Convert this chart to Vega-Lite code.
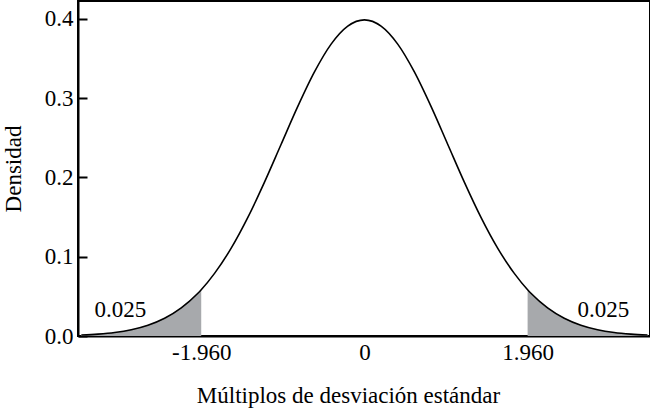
{
  "$schema": "https://vega.github.io/schema/vega-lite/v6.json",
  "width": 572,
  "height": 335,
  "autosize": "none",
  "padding": {"left": 78, "top": 1, "right": 0, "bottom": 72},
  "background": "white",
  "config": {
    "view": {"stroke": "black", "strokeWidth": 2},
    "font": "Liberation Serif",
    "axis": {"labelFont": "Liberation Serif", "titleFont": "Liberation Serif", "labelFontSize": 23, "titleFontSize": 23, "titleFontWeight": "normal", "labelColor": "black", "titleColor": "black", "domainColor": "black", "tickColor": "black", "grid": false}
  },
  "datasets": {
    "curve": [
      {"x": -3.4, "y": 0.0012}, {"x": -3.2, "y": 0.0024}, {"x": -3.0, "y": 0.0044}, {"x": -2.8, "y": 0.0079},
      {"x": -2.6, "y": 0.0136}, {"x": -2.4, "y": 0.0224}, {"x": -2.2, "y": 0.0355}, {"x": -2.0, "y": 0.054},
      {"x": -1.96, "y": 0.0584}, {"x": -1.8, "y": 0.079}, {"x": -1.6, "y": 0.1109}, {"x": -1.4, "y": 0.1497},
      {"x": -1.2, "y": 0.1942}, {"x": -1.0, "y": 0.242}, {"x": -0.8, "y": 0.2897}, {"x": -0.6, "y": 0.3332},
      {"x": -0.4, "y": 0.3683}, {"x": -0.2, "y": 0.391}, {"x": 0.0, "y": 0.3989}, {"x": 0.2, "y": 0.391},
      {"x": 0.4, "y": 0.3683}, {"x": 0.6, "y": 0.3332}, {"x": 0.8, "y": 0.2897}, {"x": 1.0, "y": 0.242},
      {"x": 1.2, "y": 0.1942}, {"x": 1.4, "y": 0.1497}, {"x": 1.6, "y": 0.1109}, {"x": 1.8, "y": 0.079},
      {"x": 1.96, "y": 0.0584}, {"x": 2.0, "y": 0.054}, {"x": 2.2, "y": 0.0355}, {"x": 2.4, "y": 0.0224},
      {"x": 2.6, "y": 0.0136}, {"x": 2.8, "y": 0.0079}, {"x": 3.0, "y": 0.0044}, {"x": 3.2, "y": 0.0024},
      {"x": 3.4, "y": 0.0012}
    ],
    "left": [
      {"x": -3.4, "y": 0.0012}, {"x": -3.2, "y": 0.0024}, {"x": -3.0, "y": 0.0044}, {"x": -2.8, "y": 0.0079},
      {"x": -2.6, "y": 0.0136}, {"x": -2.4, "y": 0.0224}, {"x": -2.2, "y": 0.0355}, {"x": -2.0, "y": 0.054},
      {"x": -1.96, "y": 0.0584}
    ],
    "right": [
      {"x": 1.96, "y": 0.0584}, {"x": 2.0, "y": 0.054}, {"x": 2.2, "y": 0.0355}, {"x": 2.4, "y": 0.0224},
      {"x": 2.6, "y": 0.0136}, {"x": 2.8, "y": 0.0079}, {"x": 3.0, "y": 0.0044}, {"x": 3.2, "y": 0.0024},
      {"x": 3.4, "y": 0.0012}
    ],
    "labels": [
      {"x": -2.93, "y": 0.033, "t": "0.025"},
      {"x": 2.87, "y": 0.033, "t": "0.025"}
    ]
  },
  "layer": [
    {
      "data": {"name": "left"},
      "mark": {"type": "area", "color": "#a7a9ac"},
      "encoding": {
        "x": {"field": "x", "type": "quantitative", "scale": {"domain": [-3.44, 3.43], "nice": false, "zero": false},
          "axis": {"values": [-1.96, 0, 1.96], "labelExpr": "datum.value == 0 ? '0' : replace(format(datum.value, '.3f'), '−', '-')", "ticks": false, "title": "Múltiplos de desviación estándar", "titlePadding": 20, "titleX": 270, "labelPadding": 5, "domainWidth": 2}},
        "y": {"field": "y", "type": "quantitative", "scale": {"domain": [0, 0.4227], "nice": false},
          "axis": {"values": [0, 0.1, 0.2, 0.3, 0.4], "format": ".1f", "tickSize": -9, "tickWidth": 2, "labelPadding": 14, "title": "Densidad", "titlePadding": 19, "domainWidth": 2}}
      }
    },
    {
      "data": {"name": "right"},
      "mark": {"type": "area", "color": "#a7a9ac"},
      "encoding": {
        "x": {"field": "x", "type": "quantitative"},
        "y": {"field": "y", "type": "quantitative"}
      }
    },
    {
      "data": {"name": "curve"},
      "mark": {"type": "line", "color": "black", "strokeWidth": 1.6, "interpolate": "monotone"},
      "encoding": {
        "x": {"field": "x", "type": "quantitative"},
        "y": {"field": "y", "type": "quantitative"}
      }
    },
    {
      "data": {"name": "labels"},
      "mark": {"type": "text", "fontSize": 23, "font": "Liberation Serif", "color": "black"},
      "encoding": {
        "x": {"field": "x", "type": "quantitative"},
        "y": {"field": "y", "type": "quantitative"},
        "text": {"field": "t"}
      }
    }
  ]
}
